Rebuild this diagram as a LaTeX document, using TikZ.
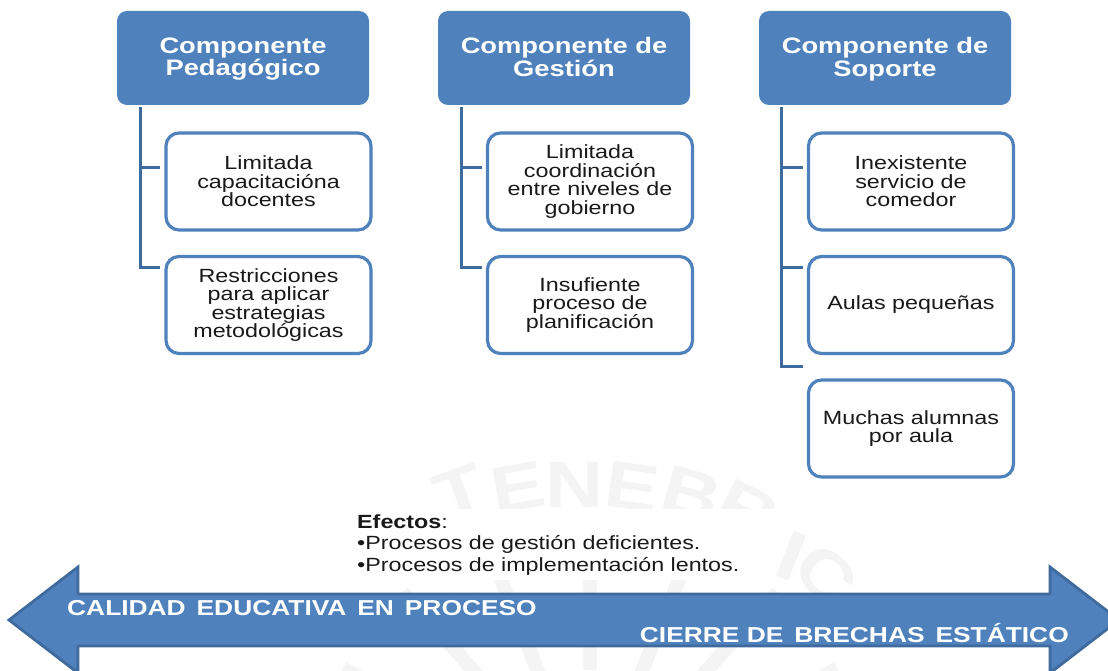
\documentclass[tikz,border=0pt]{standalone}
\usepackage{fontspec}
\setmainfont[FakeStretch=1.22]{Liberation Sans}
\usetikzlibrary{positioning}
\definecolor{bluefill}{HTML}{4F81BD}
\definecolor{blueedge}{HTML}{3F6A9E}
\definecolor{stampgray}{HTML}{F4F4F4}
\tikzset{
	headbox/.style={fill=bluefill,rounded corners=10pt,minimum width=252pt,minimum height=94pt,inner sep=0pt},
	headtext/.style={align=center,text=white,font=\fontsize{22.4}{22.5}\selectfont\bfseries,inner sep=0pt},
	itembox/.style={draw=bluefill,line width=3.2pt,fill=white,rounded corners=13pt,minimum width=205pt,minimum height=97pt,
		align=center,text=black!90,font=\fontsize{19.1}{18.5}\selectfont,inner sep=0pt},
	branch/.style={draw=blueedge,line width=3pt},
	bandtext/.style={text=white,font=\fontsize{21.6}{22}\selectfont\bfseries,inner sep=0pt},
	stampletter/.style={text=stampgray,font=\fontsize{66}{66}\selectfont\bfseries,inner sep=0pt},
}
\begin{document}
\begin{tikzpicture}[x=1pt,y=-1pt]
	\useasboundingbox (0,0) rectangle (1108,671);

	% stamp behind the band
	\node[stampletter,rotate=20] (st1) at (460,492) {T};
	\node[stampletter,rotate=10] (st2) at (518,487) {E};
	\node[stampletter] (st3) at (575,485) {N};
	\node[stampletter,rotate=-8] (st4) at (632,487) {E};
	\node[stampletter,rotate=-16] (st5) at (692,494) {B};
	\node[stampletter,rotate=-26] (st6) at (748,510) {R};
	\foreach \ang in {-62,-42,-22,0,22,42,62}{
		\draw[stampgray,line width=14pt] (590,800) ++({\ang-90}:130) -- ++({\ang-90}:150);
	}
	\node[stampletter,rotate=-45] (st7) at (826,575) {C};

	% head boxes
	\node[headbox] (ped) at (243,58) {};
	\node[headbox] (ges) at (564,58) {};
	\node[headbox] (sop) at (885,58) {};
	\node[headtext] (pedtxt) at (243,59) {Componente\\Pedagógico};
	\node[headtext] (gestxt) at (564,57) {Componente de\\Gestión};
	\node[headtext] (soptxt) at (885,59) {Componente de\\Soporte};

	% item boxes
	\node[itembox] (ped1) at (268.5,181.5) {Limitada\\capacitacióna\\docentes};
	\node[itembox] (ped2) at (268.5,305) {Restricciones\\para aplicar\\estrategias\\metodológicas};
	\node[itembox] (ges1) at (590,181.5) {Limitada\\coordinación\\entre niveles de\\gobierno};
	\node[itembox] (ges2) at (590,305) {Insufiente\\proceso de\\planificación};
	\node[itembox] (sop1) at (911,181.5) {Inexistente\\servicio de\\comedor};
	\node[itembox] (sop2) at (911,305) {Aulas pequeñas};
	\node[itembox] (sop3) at (911,428.5) {Muchas alumnas\\por aula};

	% branches
	\coordinate (ped0) at (140,107);
	\coordinate (ges0) at (461,107);
	\coordinate (sop0) at (781,107);
	\draw[branch] (ped0) |- ([xshift=-4pt]ped1.west |- 0,168);
	\draw[branch] (ped0) |- ([xshift=-4pt]ped2.west |- 0,267);
	\draw[branch] (ges0) |- ([xshift=-4pt]ges1.west |- 0,168);
	\draw[branch] (ges0) |- ([xshift=-4pt]ges2.west |- 0,267);
	\draw[branch] (sop0) |- ([xshift=-4pt]sop1.west |- 0,168);
	\draw[branch] (sop0) |- ([xshift=-4pt]sop2.west |- 0,267);
	\draw[branch] (sop0) |- ([xshift=-4pt]sop3.west |- 0,366);

	% effects
	\node[anchor=north west,align=left,text width=426pt,fill=white,text=black!90,font=\fontsize{19.1}{21.5}\selectfont,inner xsep=7pt,inner ysep=5pt] (efectos) at (350,509)
		{\textbf{Efectos}:\\•Procesos de gestión deficientes.\\•Procesos de implementación lentos.};
	\draw[stampgray,line width=13pt] (800,533) -- (782,578);

	% band
	\draw[fill=bluefill,draw=blueedge,line width=2.8pt] (9,620) -- (78,567) -- (78,594) -- (1050,594) -- (1050,567)
		-- (1119,620) -- (1050,673) -- (1050,646) -- (78,646) -- (78,673) -- cycle;
	\node[bandtext,anchor=west] (calidad) at (67,608) {CALIDAD\, EDUCATIVA\, EN\, PROCESO};
	\node[bandtext,anchor=east] (cierre) at (1069,633) {CIERRE DE\, BRECHAS\, ESTÁTICO};
\end{tikzpicture}
\end{document}
